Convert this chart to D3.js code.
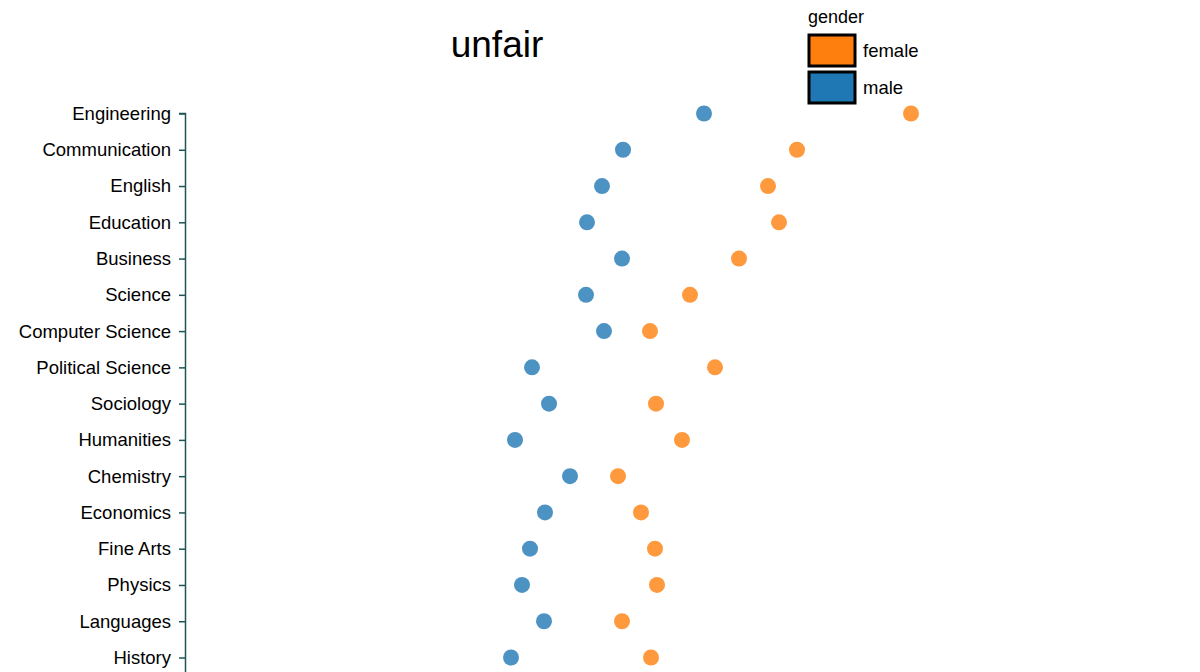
<!DOCTYPE html>
<html>
<head>
<meta charset="utf-8">
<script src="https://cdn.jsdelivr.net/npm/d3@7"></script>
<style>
  body { margin: 0; background: #fff; font-family: "Liberation Sans", Arial, sans-serif; }
</style>
</head>
<body>
<div id="chart"></div>
<script>
// majors, top to bottom
var majors = ["Engineering", "Communication", "English", "Education", "Business", "Science",
    "Computer Science", "Political Science", "Sociology", "Humanities", "Chemistry",
    "Economics", "Fine Arts", "Physics", "Languages", "History"];

// "unfair" score per major
var femaleValues = [72.6, 61.2, 58.3, 59.4, 55.4, 50.5, 46.5, 53.0, 47.1, 49.7, 43.3, 45.6, 47.0, 47.2, 43.7, 46.6];
var maleValues = [51.9, 43.8, 41.7, 40.2, 43.7, 40.1, 41.9, 34.7, 36.4, 33.0, 38.5, 36.0, 34.5, 33.7, 35.9, 32.6];

var genders = ["female", "male"];
var genderColors = ["#ff7f0e", "#1f77b4"];

var width = 1200;
var height = 672;

var svg = d3.select("#chart").append("svg")
    .attr("width", width)
    .attr("height", height);

var x = d3.scaleLinear()
    .domain([0, 100])
    .range([185, 1185]);

var y = d3.scalePoint()
    .domain(majors)
    .range([113.5, 657.5]);

var color = d3.scaleOrdinal()
    .domain(genders)
    .range(genderColors);

// y axis
var yAxis = svg.append("g")
    .attr("transform", `translate(${x(0)},0)`)
    .call(d3.axisLeft(y).tickSizeOuter(6));

yAxis.select(".domain")
    .attr("d", `M-6,${y(majors[0])}H0.5V${height + 10}`);  // axis runs off the bottom

yAxis.selectAll("path, line").attr("stroke", "#1d5656").attr("stroke-width", 1.5);
yAxis.selectAll("text")
    .attr("font-size", 18.5)
    .attr("font-family", "Liberation Sans, Arial, sans-serif")
    .attr("fill", "#000")
    .attr("x", -14);

// dots
var rows = majors.map((m, i) => ({ major: m, female: femaleValues[i], male: maleValues[i] }));

genders.forEach(g => {
    svg.append("g")
        .selectAll("circle")
        .data(rows)
        .enter().append("circle")
        .attr("cx", d => x(d[g]))
        .attr("cy", d => y(d.major))
        .attr("r", 8)
        .attr("fill", color(g))
        .attr("fill-opacity", 0.8);
});

// title
svg.append("text")
    .attr("x", 497)
    .attr("y", 57)
    .attr("text-anchor", "middle")
    .attr("font-size", 37)
    .text("unfair");

// legend
var legend = svg.append("g")
    .attr("transform", "translate(808,0)");

legend.append("text")
    .attr("x", 0)
    .attr("y", 23)
    .attr("font-size", 18)
    .text("gender");

var item = legend.selectAll("g.item")
    .data(genders)
    .enter().append("g")
    .attr("class", "item")
    .attr("transform", (d, i) => `translate(0,${35 + i * 37})`);

item.append("rect")
    .attr("x", 1)
    .attr("y", 0)
    .attr("width", 46)
    .attr("height", 31)
    .attr("fill", d => color(d))
    .attr("stroke", "#000")
    .attr("stroke-width", 3);

item.append("text")
    .attr("x", 55)
    .attr("y", 22)
    .attr("font-size", 18.5)
    .text(d => d);
</script>
</body>
</html>
